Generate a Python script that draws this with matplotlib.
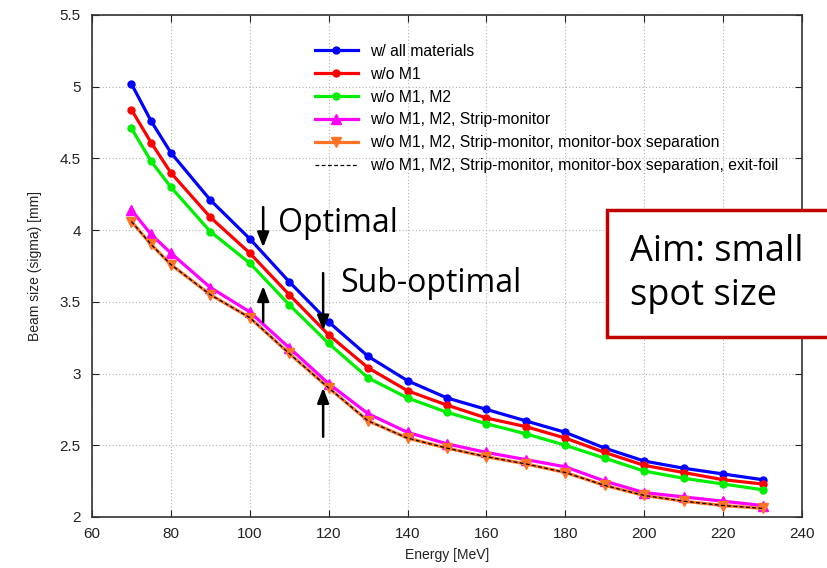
import matplotlib
matplotlib.use("Agg")
import matplotlib.pyplot as plt
from matplotlib.patches import Rectangle

energy = [70, 75, 80, 90, 100, 110, 120, 130, 140, 150, 160, 170, 180, 190, 200, 210, 220, 230]
all_materials = [5.02, 4.76, 4.54, 4.21, 3.94, 3.64, 3.36, 3.12, 2.95, 2.83, 2.75, 2.67, 2.59, 2.48, 2.39, 2.34, 2.30, 2.26]
wo_m1 = [4.84, 4.61, 4.40, 4.09, 3.84, 3.55, 3.27, 3.04, 2.88, 2.78, 2.69, 2.63, 2.55, 2.45, 2.36, 2.31, 2.26, 2.23]
wo_m1_m2 = [4.71, 4.48, 4.30, 3.99, 3.77, 3.48, 3.21, 2.97, 2.83, 2.73, 2.65, 2.58, 2.50, 2.41, 2.32, 2.27, 2.23, 2.19]
wo_strip = [4.14, 3.97, 3.84, 3.60, 3.43, 3.18, 2.93, 2.72, 2.59, 2.51, 2.45, 2.40, 2.35, 2.25, 2.17, 2.14, 2.11, 2.08]
wo_box = [4.06, 3.90, 3.76, 3.55, 3.39, 3.14, 2.90, 2.67, 2.55, 2.48, 2.42, 2.37, 2.31, 2.22, 2.15, 2.11, 2.08, 2.06]
wo_foil = [4.06, 3.90, 3.76, 3.55, 3.39, 3.14, 2.90, 2.67, 2.55, 2.48, 2.42, 2.37, 2.31, 2.22, 2.15, 2.11, 2.08, 2.06]

labels = ["w/ all materials", "w/o M1", "w/o M1, M2", "w/o M1, M2, Strip-monitor",
          "w/o M1, M2, Strip-monitor, monitor-box separation",
          "w/o M1, M2, Strip-monitor, monitor-box separation, exit-foil"]

plt.rcParams['font.family'] = ['Liberation Sans', 'DejaVu Sans']

fig = plt.figure(figsize=(8.27, 5.68), dpi=100)
ax = fig.add_axes([0.1112, 0.0898, 0.8586, 0.8838])

lw = 2.3
ax.plot(energy, all_materials, color='#0000ff', lw=lw, marker='o', ms=5, label=labels[0], zorder=5)
ax.plot(energy, wo_m1, color='#ff0000', lw=lw, marker='o', ms=5, label=labels[1], zorder=5)
ax.plot(energy, wo_m1_m2, color='#00ee00', lw=lw, marker='o', ms=5, label=labels[2], zorder=5)
ax.plot(energy, wo_strip, color='#ff00ff', lw=lw, marker='^', ms=7, label=labels[3], zorder=5)
ax.plot(energy, wo_box, color='#ff7326', lw=lw, marker='v', ms=7, label=labels[4], zorder=6)
ax.plot(energy, wo_foil, color='black', lw=0.9, ls=(0, (3, 2)), label=labels[5], zorder=7)

ax.set_xlim(60, 240)
ax.set_ylim(2, 5.5)
ax.set_xticks(range(60, 241, 20))
ax.set_yticks([2, 2.5, 3, 3.5, 4, 4.5, 5, 5.5])
ax.set_yticklabels(["2", "2.5", "3", "3.5", "4", "4.5", "5", "5.5"])
ax.tick_params(direction='in', top=True, right=True, labelsize=11, colors='#222222', length=5)
ax.tick_params(axis='x', pad=7)
ax.tick_params(axis='y', pad=8)
ax.grid(True, ls=(0, (1, 2)), color='#b0b0b0', lw=0.8)
for s in ax.spines.values():
    s.set_color('#333333')
    s.set_linewidth(1.2)
ax.set_xlabel("Energy [MeV]", fontsize=10, color='#222222', labelpad=5)
ax.set_ylabel("Beam size (sigma) [mm]", fontsize=10, color='#222222', labelpad=13)

leg = ax.legend(loc='upper left', bbox_to_anchor=(0.305, 0.955), frameon=False, fontsize=11.3,
                handlelength=2.75, labelspacing=0.5, handletextpad=0.75, borderaxespad=0)

arrow_kw = dict(arrowstyle='-|>,head_width=0.35,head_length=0.9', color='black', lw=1.8)
ax.annotate('', xy=(103.4, 3.86), xytext=(103.4, 4.18), arrowprops=arrow_kw, zorder=10)
ax.annotate('', xy=(103.4, 3.63), xytext=(103.4, 3.34), arrowprops=arrow_kw, zorder=10)
ax.annotate('', xy=(118.6, 3.28), xytext=(118.6, 3.72), arrowprops=arrow_kw, zorder=10)
ax.annotate('', xy=(118.6, 2.92), xytext=(118.6, 2.54), arrowprops=arrow_kw, zorder=10)

big = ['Open Sans', 'DejaVu Sans']
fig.text(278 / 827, 1 - 224 / 568, "Optimal", family=big, fontsize=23, va='center', ha='left')
fig.text(340 / 827, 1 - 284 / 568, "Sub-optimal", family=big, fontsize=23, va='center', ha='left')

rect = Rectangle((607 / 827, 1 - 337 / 568), 240 / 827, 127 / 568, transform=fig.transFigure,
                 facecolor='white', edgecolor='#c00000', lw=2.5, zorder=20)
fig.patches.append(rect)
fig.text(630 / 827, 1 - 274 / 568, "Aim: small\nspot size", family=big, fontsize=26,
         va='center', ha='left', linespacing=1.3, zorder=21)

fig.savefig("out.png", dpi=100)
